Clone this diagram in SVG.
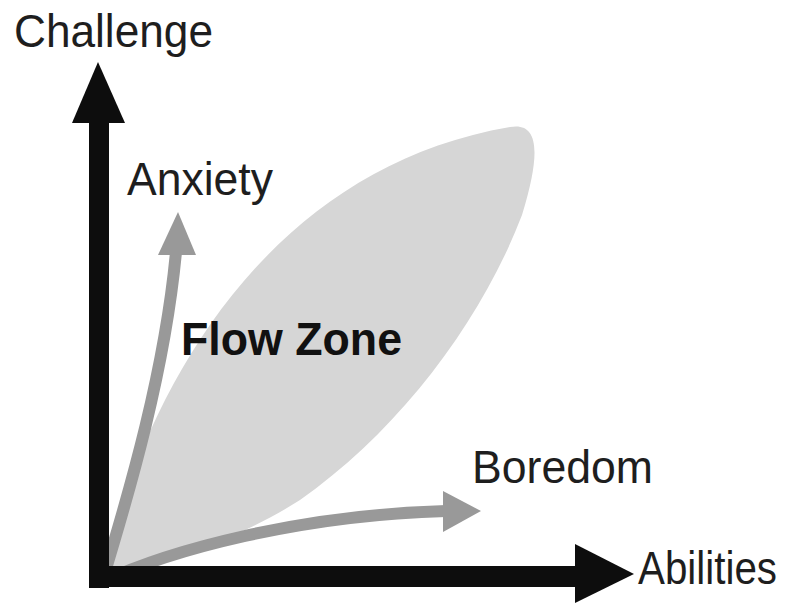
<svg xmlns="http://www.w3.org/2000/svg" width="787" height="603" viewBox="0 0 787 603">
<style>
.lbl{font-family:"Liberation Sans",Arial,sans-serif;font-size:46px;fill:#1e1e1e}
.bold{font-weight:bold;fill:#111}
.axis{fill:#0d0d0d}
.grey{fill:#999999}
.greyline{fill:none;stroke:#999999;stroke-width:12}
</style>
<rect width="787" height="603" fill="#ffffff"/>
<g id="flow-zone-area">
<path d="M100 585 C140 400 260 170 510 127 C538 122 542 150 522 215 C482 320 400 430 300 500 C230 545 150 565 100 585 Z" fill="#d6d6d6"/>
</g>
<g id="connectors">
<path class="greyline" d="M102 582 C130 490 165 370 176 252"/>
<polygon class="grey" points="178,212 196,255 158,255"/>
<path class="greyline" d="M102 582 C170 550 300 515 446 511"/>
<polygon class="grey" points="481,511 443,491 443,532"/>
<rect class="axis" x="89" y="120" width="20" height="468"/>
<polygon class="axis" points="98,62 125,123 72,123"/>
<rect class="axis" x="89" y="566" width="490" height="21"/>
<polygon class="axis" points="634,574 575,544 575,603"/>
</g>
<g id="challenge"><text class="lbl" x="14" y="47" textLength="199" lengthAdjust="spacingAndGlyphs">Challenge</text></g>
<g id="abilities"><text class="lbl" x="638" y="584" font-size="43" textLength="139" lengthAdjust="spacingAndGlyphs">Abilities</text></g>
<g id="anxiety"><text class="lbl" x="127" y="195" textLength="146" lengthAdjust="spacingAndGlyphs">Anxiety</text></g>
<g id="boredom"><text class="lbl" x="472" y="483" textLength="181" lengthAdjust="spacingAndGlyphs">Boredom</text></g>
<g id="flow-zone"><text class="lbl bold" x="181" y="355" textLength="221" lengthAdjust="spacingAndGlyphs">Flow Zone</text></g>
</svg>
